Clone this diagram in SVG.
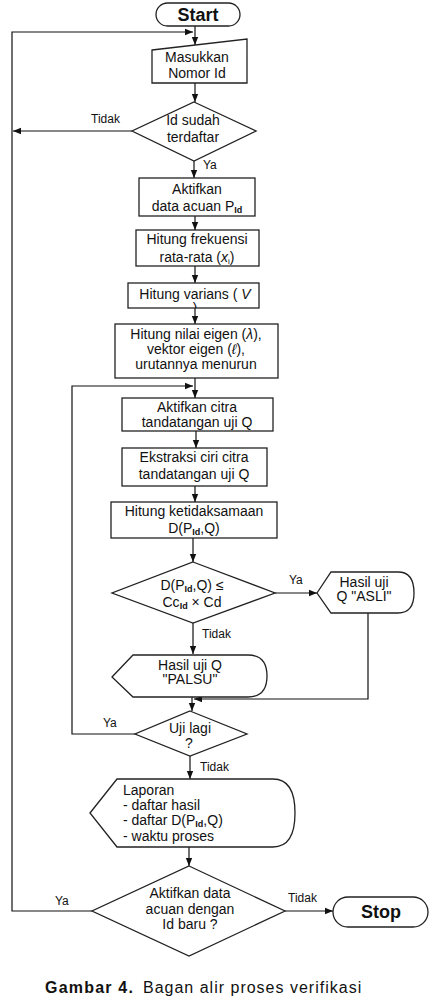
<svg xmlns="http://www.w3.org/2000/svg" width="432" height="1006" viewBox="0 0 432 1006">
<defs>
<style>
.s{fill:#fff;stroke:#222;stroke-width:1.3}
.t{font-family:"Liberation Sans",Arial,sans-serif;font-size:14px;fill:#111;text-anchor:middle}
.l{font-family:"Liberation Sans",Arial,sans-serif;font-size:12px;fill:#111}
.b{font-family:"Liberation Sans",Arial,sans-serif;font-weight:bold;font-size:18px;fill:#111;text-anchor:middle}
.c{fill:none;stroke:#111;stroke-width:1.2}
.sub{font-size:9px;font-weight:bold}
</style>
<marker id="a" viewBox="0 0 10 10" refX="10" refY="5" markerWidth="8" markerHeight="8" markerUnits="userSpaceOnUse" orient="auto">
<path d="M0,1 L10,5 L0,9 Z" fill="#111"/>
</marker>
<clipPath id="vc"><rect x="128" y="283" width="131" height="25"/></clipPath>
</defs>
<rect width="432" height="1006" fill="#fff"/>

<g id="connectors">
<line class="c" x1="195" y1="26" x2="195" y2="45" marker-end="url(#a)"/>
<polyline class="c" points="92,911 12,911 12,32 193,32" marker-end="url(#a)"/>
<line class="c" x1="132" y1="131" x2="13" y2="131" marker-end="url(#a)"/>
<line class="c" x1="195" y1="83" x2="195" y2="102" marker-end="url(#a)"/>
<line class="c" x1="194" y1="161" x2="194" y2="178" marker-end="url(#a)"/>
<line class="c" x1="195" y1="216" x2="195" y2="230" marker-end="url(#a)"/>
<line class="c" x1="195" y1="266" x2="195" y2="283" marker-end="url(#a)"/>
<line class="c" x1="195" y1="308" x2="195" y2="324" marker-end="url(#a)"/>
<line class="c" x1="195" y1="378" x2="195" y2="398" marker-end="url(#a)"/>
<polyline class="c" points="135,734 72,734 72,386 193,386" marker-end="url(#a)"/>
<line class="c" x1="196" y1="431" x2="196" y2="448" marker-end="url(#a)"/>
<line class="c" x1="195" y1="486" x2="195" y2="502" marker-end="url(#a)"/>
<line class="c" x1="193" y1="538" x2="193" y2="562" marker-end="url(#a)"/>
<line class="c" x1="275" y1="593" x2="317" y2="593" marker-end="url(#a)"/>
<line class="c" x1="193" y1="623" x2="193" y2="654" marker-end="url(#a)"/>
<line class="c" x1="192" y1="697" x2="192" y2="711" marker-end="url(#a)"/>
<polyline class="c" points="368,613 368,699 194,699" marker-end="url(#a)"/>
<line class="c" x1="190" y1="756" x2="190" y2="779" marker-end="url(#a)"/>
<line class="c" x1="189" y1="847" x2="189" y2="866" marker-end="url(#a)"/>
<line class="c" x1="285" y1="911" x2="333" y2="911" marker-end="url(#a)"/>
<text class="l" x="91" y="123">Tidak</text>
<text class="l" x="203" y="169">Ya</text>
<text class="l" x="289" y="584">Ya</text>
<text class="l" x="202" y="638">Tidak</text>
<text class="l" x="103" y="727">Ya</text>
<text class="l" x="200" y="771">Tidak</text>
<text class="l" x="55" y="905">Ya</text>
<text class="l" x="288" y="902">Tidak</text>
</g>

<g id="start">
<rect class="s" x="156" y="3" width="84" height="23" rx="11.5"/>
<text class="b" x="198" y="21">Start</text>
</g>

<g id="input">
<polygon class="s" points="152,50 247,39 247,83 152,83"/>
<text class="t" x="197" y="62">Masukkan</text>
<text class="t" x="197" y="78">Nomor Id</text>
</g>

<g id="cek-id">
<polygon class="s" points="194,102 256,131 194,161 132,131"/>
<text class="t" x="193" y="125">Id sudah</text>
<text class="t" x="193" y="142">terdaftar</text>
</g>

<g id="aktif-acuan">
<rect class="s" x="139" y="178" width="116" height="38"/>
<text class="t" x="197" y="194">Aktifkan</text>
<text class="t" x="197" y="211">data acuan P<tspan class="sub" dy="2">Id</tspan></text>
</g>

<g id="frekuensi">
<rect class="s" x="136" y="230" width="123" height="36"/>
<text class="t" x="197" y="244">Hitung frekuensi</text>
<text class="t" x="197" y="262">rata-rata (<tspan font-style="italic">x</tspan><tspan font-size="8" dy="2">i</tspan><tspan dy="-2">)</tspan></text>
</g>

<g id="varians">
<rect class="s" x="128" y="283" width="131" height="25"/>
<text class="t" x="195" y="299">Hitung varians (   <tspan font-style="italic">V</tspan></text>
<text class="t" x="195" y="313" clip-path="url(#vc)">)</text>
</g>

<g id="eigen">
<rect class="s" x="115" y="324" width="163" height="54"/>
<text class="t" x="196" y="339">Hitung nilai eigen (<tspan font-style="italic">λ</tspan>),</text>
<text class="t" x="196" y="354">vektor eigen (<tspan font-style="italic">ℓ</tspan>),</text>
<text class="t" x="196" y="369">urutannya menurun</text>
</g>

<g id="aktif-citra">
<rect class="s" x="122" y="398" width="151" height="33"/>
<text class="t" x="197" y="412">Aktifkan citra</text>
<text class="t" x="197" y="427">tandatangan uji Q</text>
</g>

<g id="ekstraksi">
<rect class="s" x="122" y="448" width="145" height="38"/>
<text class="t" x="194" y="462">Ekstraksi ciri citra</text>
<text class="t" x="194" y="479">tandatangan uji Q</text>
</g>

<g id="ketidaksamaan">
<rect class="s" x="111" y="502" width="166" height="36"/>
<text class="t" x="194" y="516">Hitung ketidaksamaan</text>
<text class="t" x="194" y="533">D(P<tspan class="sub" dy="2">Id</tspan><tspan dy="-2">,Q)</tspan></text>
</g>

<g id="cek-jarak">
<polygon class="s" points="193,562 275,593 193,623 112,593"/>
<text class="t" x="192" y="590">D(P<tspan class="sub" dy="2">Id</tspan><tspan dy="-2">,Q) ≤</tspan></text>
<text class="t" x="192" y="607">Cc<tspan class="sub" dy="2">Id</tspan><tspan dy="-2"> × Cd</tspan></text>
</g>

<g id="asli">
<path class="s" d="M317,593 L331,572 L398,572 Q414,572 414,593 Q414,613 398,613 L331,613 Z"/>
<text class="t" x="364" y="587">Hasil uji</text>
<text class="t" x="364" y="601">Q "ASLI"</text>
</g>

<g id="palsu">
<path class="s" d="M112,677 L133,655 L248,655 Q267,655 267,676 Q267,697 248,697 L133,697 Z"/>
<text class="t" x="190" y="670">Hasil uji Q</text>
<text class="t" x="190" y="684">"PALSU"</text>
</g>

<g id="uji-lagi">
<polygon class="s" points="190,711 247,734 190,756 135,734"/>
<text class="t" x="190" y="733">Uji lagi</text>
<text class="t" x="189" y="748">?</text>
</g>

<g id="laporan">
<path class="s" d="M90,813 L117,779 L273,779 Q295,779 295,813 Q295,847 273,847 L117,847 Z"/>
<text class="t" x="123" y="795" style="text-anchor:start">Laporan</text>
<text class="t" x="123" y="810" style="text-anchor:start">-  daftar hasil</text>
<text class="t" x="123" y="825" style="text-anchor:start">-  daftar D(P<tspan class="sub" dy="2">Id</tspan><tspan dy="-2">,Q)</tspan></text>
<text class="t" x="123" y="841" style="text-anchor:start">-  waktu proses</text>
</g>

<g id="id-baru">
<polygon class="s" points="189,866 285,911 189,956 92,911"/>
<text class="t" x="190" y="898">Aktifkan data</text>
<text class="t" x="190" y="914">acuan dengan</text>
<text class="t" x="190" y="929">Id baru  ?</text>
</g>

<g id="stop">
<rect class="s" x="333" y="897" width="95" height="30" rx="15"/>
<text class="b" x="381" y="918">Stop</text>
</g>

<g id="caption">
<text x="45" y="993" font-family="Liberation Sans, Arial, sans-serif" font-size="16" fill="#111"><tspan font-weight="bold" letter-spacing="1.2">Gambar 4.</tspan><tspan x="143" letter-spacing="1">Bagan alir proses verifikasi</tspan></text>
</g>
</svg>
